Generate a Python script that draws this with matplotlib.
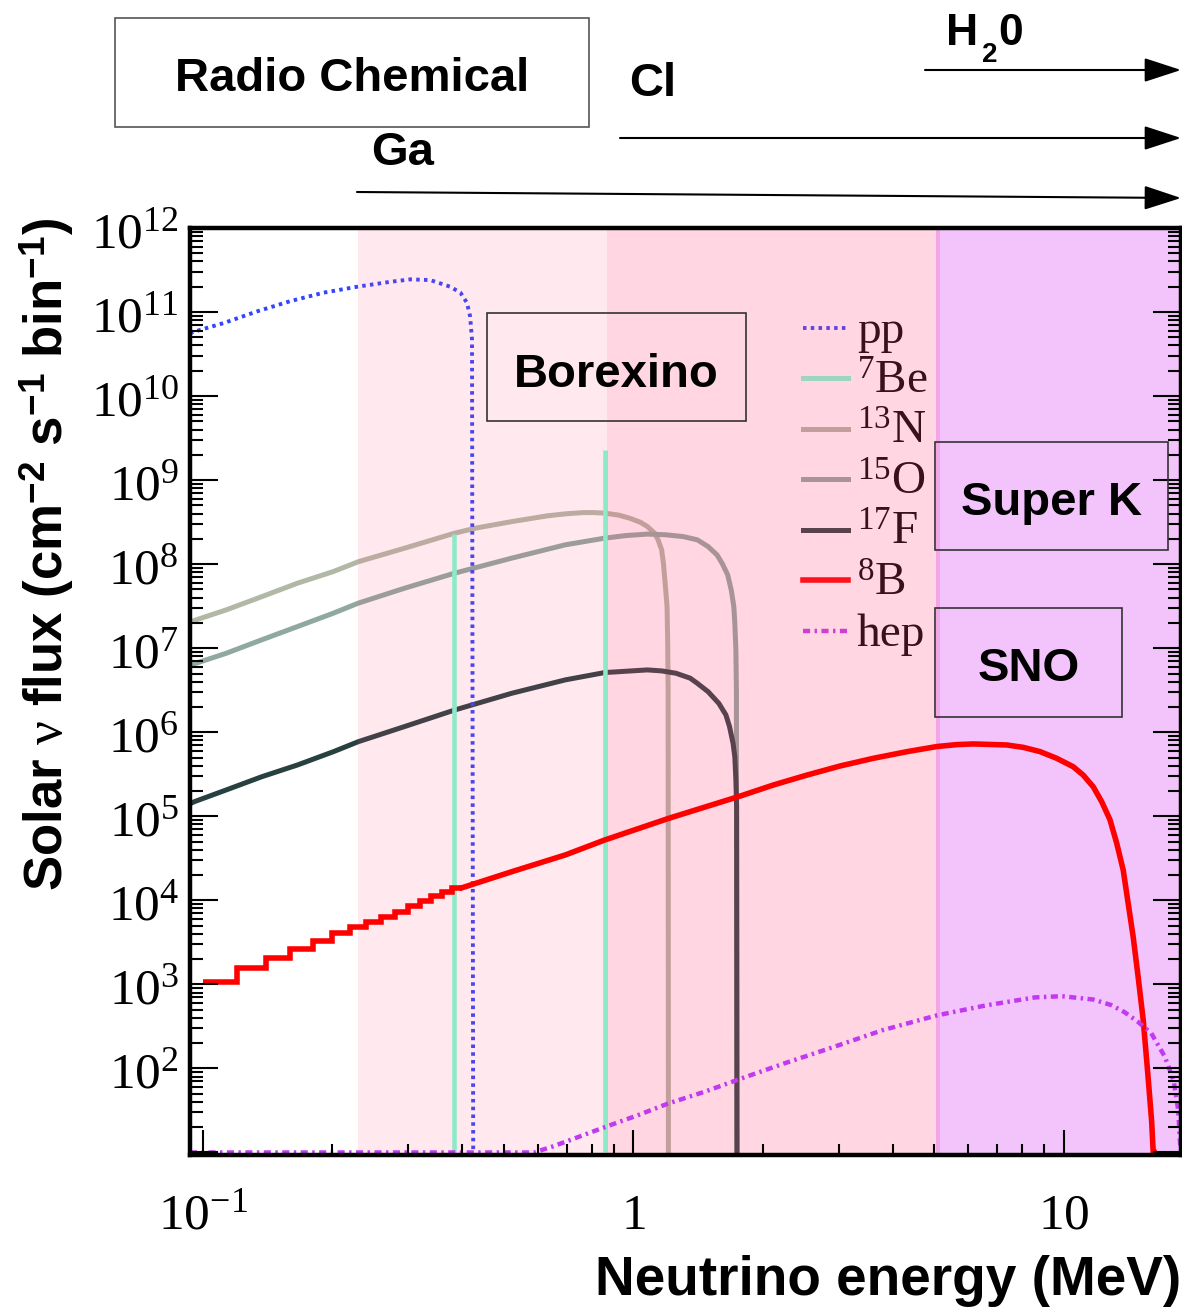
import numpy as np
import matplotlib
matplotlib.use("Agg")
import matplotlib.pyplot as plt
from matplotlib.patches import Rectangle, FancyArrowPatch
from matplotlib.ticker import LogLocator, NullFormatter

plt.rcParams['mathtext.fontset'] = 'custom'
plt.rcParams['mathtext.rm'] = 'Liberation Serif'
plt.rcParams['mathtext.it'] = 'Liberation Serif:italic'
plt.rcParams['mathtext.bf'] = 'Liberation Sans:bold'

# Solar neutrino spectra: energy (MeV) and flux (cm^-2 s^-1 bin^-1)
pp_e = [0.0935, 0.0963, 0.112, 0.134, 0.160, 0.191, 0.2285, 0.273, 0.304,
        0.338, 0.376, 0.397, 0.411, 0.418, 0.4223, 0.425]
pp_f = [5.6e10, 5.9e10, 7.4e10, 1.02e11, 1.35e11, 1.70e11, 2.0e11, 2.29e11,
        2.45e11, 2.40e11, 2.0e11, 1.70e11, 1.29e11, 8.9e10, 4.7e10, 0]

be7_e = [0.384, 0.862]
be7_f = [2.3e8, 2.3e9]

n13_e = [0.0935, 0.0965, 0.1135, 0.1373, 0.1661, 0.2012, 0.2300, 0.2946,
         0.3850, 0.4315, 0.5223, 0.6316, 0.6955, 0.7649, 0.810, 0.8579,
         0.926, 0.9804, 1.038, 1.078, 1.121, 1.142, 1.164, 1.175, 1.186,
         1.198, 1.202, 1.205, 1.207]
n13_f = [2.04e7, 2.17e7, 2.86e7, 4.11e7, 5.94e7, 8.17e7, 1.07e8, 1.55e8,
         2.34e8, 2.69e8, 3.21e8, 3.76e8, 3.97e8, 4.11e8, 4.11e8, 4.05e8,
         3.83e8, 3.53e8, 3.16e8, 2.81e8, 2.34e8, 1.95e8, 1.48e8, 1.02e8,
         5.94e7, 3.16e7, 1.26e7, 3.16e6, 0]

o15_e = [0.0935, 0.0965, 0.1135, 0.1373, 0.1661, 0.2012, 0.2300, 0.2946,
         0.3850, 0.5223, 0.6955, 0.858, 0.962, 1.078, 1.186, 1.306, 1.408,
         1.492, 1.565, 1.609, 1.657, 1.689, 1.712, 1.721, 1.731, 1.736, 1.739]
o15_f = [6.31e6, 6.62e6, 8.71e6, 1.26e7, 1.81e7, 2.61e7, 3.44e7, 5.18e7,
         7.82e7, 1.18e8, 1.70e8, 2.04e8, 2.19e8, 2.28e8, 2.24e8, 2.13e8,
         1.95e8, 1.62e8, 1.29e8, 1.02e8, 7.46e7, 4.90e7, 3.13e7, 2.0e7,
         9.55e6, 3.16e6, 0]

f17_e = [0.0935, 0.0956, 0.1135, 0.1373, 0.1661, 0.2012, 0.2300, 0.2946,
         0.3850, 0.5223, 0.6955, 0.858, 1.078, 1.164, 1.256, 1.356, 1.408,
         1.492, 1.580, 1.641, 1.673, 1.705, 1.721, 1.731, 1.738, 1.742]
f17_f = [1.41e5, 1.49e5, 2.06e5, 2.96e5, 4.08e5, 5.87e5, 7.73e5, 1.17e6,
         1.84e6, 2.91e6, 4.20e6, 5.13e6, 5.52e6, 5.37e6, 5.04e6, 4.40e6,
         3.83e6, 3.04e6, 2.21e6, 1.61e6, 1.17e6, 7.40e5, 5.13e5, 2.70e5,
         1.30e5, 0]

# 8B: coarse 20 keV bins at low energy, then the smooth part
b8_edges = [0.10, 0.12, 0.14, 0.16, 0.18, 0.20, 0.22, 0.24, 0.26, 0.28,
            0.30, 0.32, 0.34, 0.36, 0.38, 0.40]
b8_bins = [1.07e3, 1.55e3, 2.04e3, 2.63e3, 3.31e3, 4.05e3, 4.79e3, 5.56e3,
           6.38e3, 7.31e3, 8.51e3, 9.77e3, 1.12e4, 1.26e4, 1.41e4]
b8_e = [0.40, 0.522, 0.6955, 0.858, 1.209, 1.771, 2.116, 2.529, 3.022,
        3.611, 4.315, 5.066, 5.636, 6.161, 7.364, 8.05, 8.796, 9.62, 10.51,
        11.09, 11.70, 12.24, 12.79, 13.26, 13.73, 14.10, 14.48, 14.87, 15.28,
        15.61, 15.98, 16.12, 16.2]
b8_f = [1.41e4, 2.19e4, 3.47e4, 5.22e4, 9.46e4, 1.74e5, 2.36e5, 3.09e5,
        3.97e5, 4.90e5, 5.87e5, 6.76e5, 7.13e5, 7.26e5, 7.06e5, 6.61e5,
        5.89e5, 4.90e5, 3.89e5, 3.09e5, 2.24e5, 1.49e5, 9.12e4, 4.79e4,
        2.29e4, 9.2e3, 3.69e3, 1.23e3, 376, 105, 24, 9.8, 0]

hep_e = [0.0935, 0.58, 0.5884, 0.6474, 0.7122, 0.8027, 0.8834, 1.020, 1.206,
         1.460, 1.811, 2.245, 2.853, 3.801, 5.063, 6.586, 8.562, 9.888,
         11.70, 12.87, 13.82, 14.85, 15.95, 17.15, 17.98, 18.42, 18.65]
hep_f = [0, 0, 9.9, 11.7, 14.0, 17.6, 21.1, 27.5, 38.3, 52.5, 78.2, 115,
         173, 286, 427, 562, 700, 724, 661, 568, 468, 359, 263, 138, 72,
         32, 10.7]

# detector thresholds (MeV)
ga_thr = 0.23
borexino_thr = 0.87
sk_thr = 5.05
x_max = 18.7

W, H = 1182, 1307
fig = plt.figure(figsize=(W / 100, H / 100), dpi=100)
ax = fig.add_axes([190 / W, 1 - 1155 / H, (1181 - 190) / W, (1155 - 228) / H])
ax.set_xscale('log')
ax.set_yscale('log')
y_min = 10 ** 0.97
floor = 10 ** 1.0   # empty bins sit on the bottom of the frame


def lifted(f):
    return np.maximum(np.array(f, dtype=float), floor)


pp_style = dict(color='#3344ff', lw=2.8, ls=(0, (0.9, 1.1)))
hep_style = dict(color='#c03af0', lw=3.2, ls=(0, (1.6, 1.0, 0.55, 1.0)))

ax.plot(n13_e, lifted(n13_f), color='#b2b8a6', lw=3.6, zorder=2)
ax.plot(o15_e, lifted(o15_f), color='#8fa8a0', lw=3.6, zorder=2)
ax.plot(f17_e, lifted(f17_f), color='#284040', lw=3.6, zorder=2)
ax.plot(pp_e, lifted(pp_f), zorder=2, **pp_style)
ax.vlines(be7_e, floor, be7_f, color='#7fffd4', lw=3.3, zorder=2)
# 8B and hep sit on top of the shaded bands
ax.stairs(b8_bins, b8_edges, baseline=None, color='red', lw=4, zorder=3.5)
ax.plot(b8_e, lifted(b8_f), color='red', lw=4, zorder=3.5)
ax.plot(hep_e, lifted(hep_f), zorder=3.5, **hep_style)

# legend drawn by hand inside the frame
leg = [('pp', pp_style),
       (r'$^{7}$Be', dict(color='#7fffd4', lw=3.6)),
       (r'$^{13}$N', dict(color='#b2b8a6', lw=3.6)),
       (r'$^{15}$O', dict(color='#8fa8a0', lw=3.6)),
       (r'$^{17}$F', dict(color='#284040', lw=3.6)),
       (r'$^{8}$B', dict(color='red', lw=4)),
       ('hep', hep_style)]
for i, (lab, kw) in enumerate(leg):
    yy = 0.8924 - 0.0545 * i
    ax.plot([0.6186, 0.664], [yy, yy], transform=ax.transAxes, zorder=2.2, **kw)
    ax.text(0.673, yy - 0.004, lab, transform=ax.transAxes, ha='left', va='center',
            fontsize=34, family='Liberation Serif', zorder=2.2)

# sensitivity bands
ax.axvspan(ga_thr, sk_thr * 1.022, color='#ff4f7f', alpha=0.12, lw=0, zorder=3)
ax.axvspan(borexino_thr, sk_thr * 1.022, color='#ff4f7f', alpha=0.12, lw=0, zorder=3)
ax.axvspan(sk_thr, x_max, color='#da3af5', alpha=0.3, lw=0, zorder=3)

ax.set_xlim(0.0935, x_max)

ax.set_xticks([0.1, 1, 10], labels=[r'$10^{-1}$', r'$1$', r'$10$'],
              fontsize=37, va='baseline')
ax.xaxis.set_minor_locator(LogLocator(base=10, subs=np.arange(2, 10), numticks=20))
ax.xaxis.set_minor_formatter(NullFormatter())
ax.set_yticks(10.0 ** np.arange(1, 13),
              labels=[''] + [rf'$10^{{{k}}}$' for k in range(2, 13)], fontsize=37)
ax.yaxis.set_minor_locator(LogLocator(base=10, subs=np.arange(2, 10), numticks=30))
ax.yaxis.set_minor_formatter(NullFormatter())
ax.set_ylim(y_min, 1e12)

ax.tick_params(which='both', direction='in', top=False, right=True,
               width=1.5, colors='black')
ax.tick_params(axis='y', which='major', length=20, pad=8)
ax.tick_params(axis='y', which='minor', length=9.5)
ax.tick_params(axis='x', which='major', length=18, pad=53)
ax.tick_params(axis='x', which='minor', length=8)
for s in ax.spines.values():
    s.set_linewidth(3.2)
    s.set_zorder(5)
ax.xaxis.set_zorder(4.5)
ax.yaxis.set_zorder(4.5)

ax.set_xlabel('Neutrino energy (MeV)', fontsize=39.6, fontweight='bold',
              family='Liberation Sans')
ax.xaxis.set_label_coords(1.0, -0.151)
ax.xaxis.label.set_ha('right')
ax.xaxis.label.set_va('baseline')
ax.set_ylabel(r'Solar $\mathrm{\nu}$ flux (cm$^{\mathbf{-2}}$ s$^{\mathbf{-1}}$ bin$^{\mathbf{-1}}$)',
              fontsize=38, fontweight='bold', family='Liberation Sans')
ax.yaxis.set_label_coords(-0.1443, 0.6475)
ax.yaxis.label.set_va('center')


# labelled boxes, placed in figure pixels (y from the top)
def box(x0, y0, x1, y1, text, base_y, ec='#333333'):
    fig.add_artist(Rectangle((x0 / W, 1 - y1 / H), (x1 - x0) / W, (y1 - y0) / H,
                             fill=False, ec=ec, lw=1.2, transform=fig.transFigure,
                             zorder=6))
    fig.text((x0 + x1) / 2 / W, 1 - base_y / H, text, ha='center', va='baseline',
             fontsize=34, fontweight='bold', family='Liberation Sans', zorder=6)


box(115, 18, 589, 127, 'Radio Chemical', 91, ec='#555555')
box(487, 313, 746, 421, 'Borexino', 387)
box(935, 442, 1168, 550, 'Super K', 515)
box(935, 608, 1122, 717, 'SNO', 681)


def arrow(x0, y0, x1, y1):
    fig.add_artist(FancyArrowPatch((x0 / W, 1 - y0 / H), (x1 / W, 1 - y1 / H),
                                   transform=fig.transFigure,
                                   arrowstyle='-|>,head_length=23,head_width=7.5',
                                   mutation_scale=1, lw=1.5, color='black',
                                   shrinkA=0, shrinkB=0))


arrow(925, 70, 1181, 70)
arrow(620, 138, 1181, 138)
arrow(357, 192, 1181, 198)

lab_font = dict(fontweight='bold', family='Liberation Sans')
fig.text(946 / W, 1 - 45 / H, 'H', fontsize=32, **lab_font)
fig.text(982 / W, 1 - 62 / H, '2', fontsize=20, **lab_font)
fig.text(998 / W, 1 - 45 / H, '0', fontsize=32, **lab_font)
fig.text(629 / W, 1 - 96 / H, 'Cl', fontsize=34, **lab_font)
fig.text(371 / W, 1 - 165 / H, 'Ga', fontsize=34, **lab_font)

fig.savefig('out.png', dpi=100)
